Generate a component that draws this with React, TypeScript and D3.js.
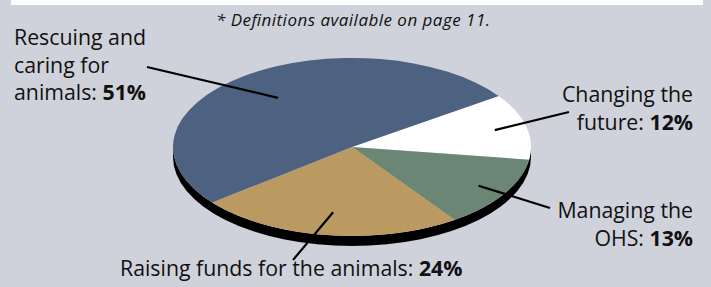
import React from 'react';
import * as d3 from 'd3';

const W = 711;
const H = 287;

// slice data, clockwise from the white slice
const categories = ['Changing the future', 'Managing the OHS', 'Raising funds for the animals', 'Rescuing and caring for animals'];
const shares = [12, 13, 24, 51];
const colors = ['#ffffff', '#6b8674', '#bb9a62', '#4d6180'];

// label text lines (last line ends with the bold value)
const labelLines = [
  ['Changing the', 'future: '],
  ['Managing the', 'OHS: '],
  ['Raising funds for the animals: '],
  ['Rescuing and', 'caring for', 'animals: '],
];

const footnote = '* Definitions available on page 11.';

const cx = 352;
const cy = 147;
const rx = 179;
const ry = 89;
const depth = 10;
const startDeg = 55;

// where labels sit: anchor, x, first baseline, and leader line outer end
const labelLayout = [
  { anchor: 'end', x: 693, y: 102, lx: 569, ly: 112, frac: 0.82 },
  { anchor: 'end', x: 693, y: 218, lx: 550, ly: 208, frac: 0.83 },
  { anchor: 'start', x: 120, y: 276, lx: 293, ly: 260, frac: 0.74 },
  { anchor: 'start', x: 14, y: 45, lx: 147, ly: 67, frac: 0.69 },
];

const font = '"Open Sans", Lato, sans-serif';

const pt = (a: number, f = 1, dy = 0) => [cx + rx * f * Math.sin(a), cy - ry * f * Math.cos(a) + dy];

export default function App() {
  const pie = d3.pie<number>().sort(null).value(d => d)
    .startAngle((startDeg * Math.PI) / 180)
    .endAngle((startDeg * Math.PI) / 180 + 2 * Math.PI);
  const arcs = pie(shares);

  const slicePath = (a0: number, a1: number) => {
    const [x0, y0] = pt(a0);
    const [x1, y1] = pt(a1);
    const large = a1 - a0 > Math.PI ? 1 : 0;
    return `M${cx},${cy}L${x0},${y0}A${rx},${ry} 0 ${large} 1 ${x1},${y1}Z`;
  };

  const sidePath = `M${cx - rx},${cy}A${rx},${ry} 0 0 0 ${cx + rx},${cy}L${cx + rx},${cy + depth}A${rx},${ry} 0 0 1 ${cx - rx},${cy + depth}Z`;

  return (
    <div style={{ position: 'absolute', left: 0, top: 0 }}>
      <svg width={W} height={H} style={{ display: 'block' }}>
        <rect x={0} y={0} width={W} height={H} fill="#cfd2da" />
        <rect x={11} y={0} width={692} height={5} fill="#ffffff" />
        <text x={216} y={26} fontFamily={font} fontStyle="italic" fontSize={17} fill="#111"
          textLength={274} lengthAdjust="spacing">{footnote}</text>

        <path d={sidePath} fill="#000" />
        {arcs.map((a, i) => (
          <path key={categories[i]} d={slicePath(a.startAngle, a.endAngle)} fill={colors[i]} />
        ))}

        {arcs.map((a, i) => {
          const mid = (a.startAngle + a.endAngle) / 2;
          const L = labelLayout[i];
          const [ix, iy] = pt(mid, L.frac);
          return <line key={'l' + i} x1={ix} y1={iy} x2={L.lx} y2={L.ly} stroke="#000" strokeWidth={2.2} />;
        })}

        {labelLines.map((lines, i) => {
          const L = labelLayout[i];
          return (
            <text key={'t' + i} fontFamily={font} fontSize={21.3} fill="#111" textAnchor={L.anchor}>
              {lines.map((ln, j) => (
                <tspan key={j} x={L.x} y={L.y + j * 27.5}>
                  {ln}
                  {j === lines.length - 1 && <tspan fontWeight="bold">{shares[i]}%</tspan>}
                </tspan>
              ))}
            </text>
          );
        })}
      </svg>
    </div>
  );
}
